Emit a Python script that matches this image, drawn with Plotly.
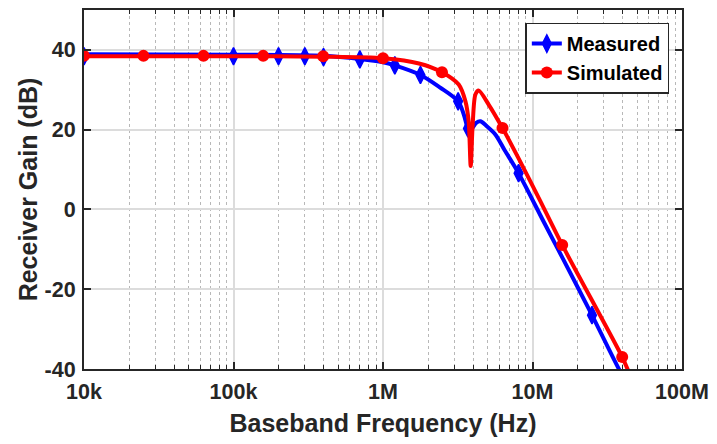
import plotly.graph_objects as go

# ---- data ----
meas_freq = [1e4, 1e5, 2e5, 3e5, 4e5, 7e5, 1.2e6, 1.78e6, 3.18e6, 3.7e6, 8.07e6, 2.5e7]
meas_gain = [38.4, 38.4, 38.4, 38.4, 38.2, 37.6, 36.1, 33.7, 27.1, 20.3, 9.1, -26.5]

sim_freq = [1e4, 2.5e4, 6.3e4, 1.58e5, 3.98e5, 1e6, 2.48e6, 6.3e6, 1.58e7, 3.98e7]
sim_gain = [38.5, 38.5, 38.5, 38.5, 38.4, 37.9, 34.4, 20.4, -8.9, -37.0]

meas_curve_freq = [1e4, 1e5, 4e5, 7e5, 1.0e6, 1.2e6, 1.78e6, 2.4e6, 3.18e6, 3.47e6, 3.7e6,
                   3.84e6, 4.0e6, 4.2e6, 4.48e6, 4.9e6, 5.64e6, 6.5e6, 8.07e6, 1.2e7, 1.6e7,
                   2.5e7, 3.78e7, 4.2e7]
meas_curve_gain = [38.9, 38.8, 38.5, 37.7, 36.9, 36.1, 33.7, 30.6, 27.1, 23.8, 20.3,
                   19.8, 20.6, 21.7, 22.1, 21.0, 18.8, 14.9, 9.1, -3.4, -12.4,
                   -26.5, -40.0, -43.0]

sim_curve_freq = [1e4, 1e5, 4e5, 1.0e6, 1.74e6, 2.48e6, 3.21e6, 3.56e6, 3.74e6, 3.86e6,
                  3.98e6, 4.15e6, 4.36e6, 5.09e6, 6.3e6, 8.07e6, 1.1e7, 1.58e7, 3.98e7, 4.4e7]
sim_curve_gain = [38.4, 38.4, 38.3, 37.9, 36.6, 34.4, 31.3, 27.1, 22.1, 10.9,
                  21.3, 28.8, 29.8, 26.3, 20.4, 12.8, 2.9, -8.9, -37.0, -40.7]

x_tickvals = [1e4, 1e5, 1e6, 1e7, 1e8]
x_ticktext = ["10k", "100k", "1M", "10M", "100M"]
y_tickvals = [-40, -20, 0, 20, 40]
y_ticktext = ["-40", "-20", "0", "20", "40"]

minor_vals = [m * 10 ** e for e in range(4, 8) for m in range(2, 10)]

BLUE = "#0000FF"
RED = "#FF0000"
AX = "#262626"
FONT = "Liberation Sans, Arial, sans-serif"

fig = go.Figure()
fig.add_trace(go.Scatter(x=meas_curve_freq, y=meas_curve_gain, mode="lines",
                         line=dict(color=BLUE, width=4, shape="spline", smoothing=0.9),
                         showlegend=False, hoverinfo="skip"))
fig.add_trace(go.Scatter(x=meas_freq, y=meas_gain, mode="markers",
                         marker=dict(symbol="diamond-tall", size=12.5, color=BLUE,
                                     line=dict(color=BLUE, width=1.5)),
                         showlegend=False))
fig.add_trace(go.Scatter(x=sim_curve_freq, y=sim_curve_gain, mode="lines",
                         line=dict(color=RED, width=4, shape="spline", smoothing=0.8),
                         showlegend=False, hoverinfo="skip"))
fig.add_trace(go.Scatter(x=sim_freq, y=sim_gain, mode="markers",
                         marker=dict(symbol="circle", size=12, color=RED),
                         showlegend=False))
# legend entries
fig.add_trace(go.Scatter(x=[None], y=[None], mode="lines+markers", name="Measured",
                         line=dict(color=BLUE, width=4),
                         marker=dict(symbol="diamond-tall", size=12.5, color=BLUE,
                                     line=dict(color=BLUE, width=1.5))))
fig.add_trace(go.Scatter(x=[None], y=[None], mode="lines+markers", name="Simulated",
                         line=dict(color=RED, width=4),
                         marker=dict(symbol="circle", size=12, color=RED)))

fig.update_layout(
    width=717, height=444,
    margin=dict(l=84, r=33, t=8, b=75),
    paper_bgcolor="white", plot_bgcolor="white",
    font=dict(family=FONT, color=AX),
    legend=dict(x=0.738, y=0.965, xanchor="left", yanchor="top",
                bgcolor="white", bordercolor=AX, borderwidth=1.5,
                font=dict(family=FONT, size=20, color="black", weight=700),
                tracegroupgap=0, itemwidth=30),
)

fig.update_xaxes(
    type="log", range=[4, 8],
    tickmode="array", tickvals=x_tickvals, ticktext=x_ticktext,
    tickfont=dict(family=FONT, size=21.5, color=AX, weight=700),
    ticks="inside", ticklen=7, tickwidth=1.5, tickcolor=AX,
    showline=True, linecolor=AX, linewidth=2, mirror="ticks",
    showgrid=True, gridcolor="#dcdcdc", gridwidth=1.5,
    minor=dict(tickmode="array", tickvals=minor_vals, ticks="inside", ticklen=4,
               tickwidth=1, tickcolor=AX, showgrid=True, gridcolor="#b8b8b8",
               griddash="dot", gridwidth=1),
    ticklabelstandoff=2,
    title=dict(text="Baseband Frequency (Hz)", standoff=12,
               font=dict(family=FONT, size=25, color=AX, weight=700)),
    zeroline=False,
)
fig.update_yaxes(
    range=[-40, 50],
    tickmode="array", tickvals=y_tickvals, ticktext=y_ticktext,
    tickfont=dict(family=FONT, size=21.5, color=AX, weight=700),
    ticks="inside", ticklen=7, tickwidth=1.5, tickcolor=AX,
    showline=True, linecolor=AX, linewidth=2, mirror="ticks",
    showgrid=True, gridcolor="#dcdcdc", gridwidth=1.5,
    ticklabelstandoff=2,
    title=dict(text="Receiver Gain (dB)", standoff=0,
               font=dict(family=FONT, size=25, color=AX, weight=700)),
    zeroline=False,
)

fig.write_html("out.html")
